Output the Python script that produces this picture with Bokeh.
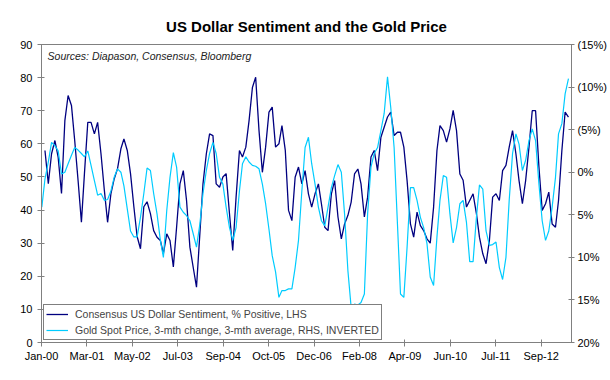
import pandas as pd
from bokeh.plotting import figure
from bokeh.models import (Range1d, LinearAxis, FixedTicker, CustomJSTickFormatter,
                          Legend, LegendItem, Label, Title)
from bokeh.embed import file_html
from bokeh.resources import INLINE

# ---------------- data (monthly readings) ----------------
# Consensus US Dollar Sentiment, % positive (LHS), Feb-2000 .. May-2013
sentiment = [
    58, 48, 57, 61, 56, 45, 67, 74.6, 71.6, 61, 49, 36.3,
    51, 66.5, 66.5, 63, 66.5, 57, 46, 36.3, 45, 49.4, 52.5, 58.5,
    61.5, 58, 51, 41, 32, 28.3, 41, 42.5, 38.9, 33.8, 31.8, 30.8,
    26.8, 32.8, 30.8, 22.8, 34.8, 47.9, 51.9, 42.9, 28.8, 22.8, 16.7, 32.8,
    47.9, 57, 63, 62.5, 47.9, 46.9, 50, 51, 38.9, 27.8, 43.9, 58,
    56, 59, 67, 77, 80.1, 64, 51.4, 59, 69.6, 71.1, 59, 60,
    65.5, 58, 39.9, 36.8, 49.9, 53, 47.9, 51.9, 44.9, 40.9, 44.9, 47.9,
    41.9, 34.8, 33.8, 44.9, 48.9, 37.9, 31.3, 35.8, 38.4, 42.4, 50.9, 52.4,
    47.9, 37.9, 43.9, 56, 58, 51.9, 62, 65, 68.1, 69.6, 62.5, 63.5,
    63.5, 59, 48.9, 35.8, 31.8, 39.4, 35.3, 33.8, 31.3, 30, 40.9, 58,
    65.5, 64, 60.5, 64.5, 70.1, 64, 50.9, 49, 40.9, 42.9, 44.9, 38.9,
    31.8, 26.8, 23.8, 30.8, 43.9, 44.9, 42.9, 51.9, 53.5, 59, 64, 57,
    48.9, 41.9, 48.9, 59, 70, 70, 53, 39.9, 41.9, 45.4, 35.8, 34.8,
    42.9, 58, 69.6, 68.1,
]

# Gold spot price, 3-mth change, 3-mth average, % (RHS, inverted), Jan-2000 .. May-2013
gold = [
    4.1, 0.8, -1.2, -3.5, -3.1, -2.5, 0.2, 0, -1.0, -2.0, -2.9, -2.6,
    -2.2, -1.8, -2.5, -0.8, 1.0, 2.7, 2.5, 3.3, 3.2, 2.2, 0.6, -0.4,
    0, 1.6, 4.3, 6.9, 7.6, 7.6, 5.3, 2.5, -0.5, -0.2, 2.5, 4.9,
    8.0, 10.0, 4.5, 0.6, -2.3, -0.6, 4.1, 4.7, 5.1, 5.7, 7.2, 8.8,
    6.1, 2.5, -0.2, -2.2, -3.5, -2.2, 0.6, 1.4, 4.1, 6.5, 8.0, 6.5,
    2.2, -1.0, -1.8, -1.2, -0.8, -0.7, -0.4, 1.4, 3.7, 6.7, 9.8, 11.7,
    14.7, 13.9, 13.9, 13.7, 13.7, 11.2, 8.0, 2.2, -2.9, -4.1, -1.0, 1.4,
    4.1, 5.7, 6.3, 4.1, 1.8, 0.4, -0.9, 0, 4.9, 11.6, 15.9, 15.5,
    15.6, 15.3, 14.3, 4.9, -0.6, -2.2, -2.9, -4.9, -6.9, -11.2, -7.6, -2.9,
    6.1, 14.3, 14.7, 8.8, 1.8, 1.8, 3.3, 5.3, 6.5, 8.4, 12.3, 13.3,
    7.6, 3.3, 0.4, 0.6, 4.9, 8.3, 6.5, 3.7, 3.3, 5.9, 10.5, 10.5,
    5.3, 1.5, 2.0, 6.9, 8.6, 8.5, 8.2, 11.2, 12.6, 10.0, 3.3, -2.2,
    -4.5, -3.3, -0.2, -1.4, -3.7, -5.1, -3.7, 1.4, 5.7, 8.0, 6.9, 4.1,
    0.6, -4.5, -5.7, -9.2, -11.0,
]

tick_labels = ["Jan-00", "Mar-01", "May-02", "Jul-03", "Sep-04", "Oct-05",
               "Dec-06", "Feb-08", "Apr-09", "Jun-10", "Jul-11", "Sep-12"]
left_ticks = [0, 10, 20, 30, 40, 50, 60, 70, 80, 90]
right_ticks = [-15, -10, -5, 0, 5, 10, 15, 20]

# ---------------- x positions (weeks since axis origin) ----------------
origin = pd.Timestamp("2000-01-28")
gold_dates = pd.date_range("2000-01-31", periods=len(gold), freq="ME")
sent_dates = gold_dates[len(gold) - len(sentiment):]
gold_x = list((gold_dates - origin).days / 7.0)
sent_x = list((sent_dates - origin).days / 7.0)
tick_step = 60  # weeks between category labels
tick_pos = [tick_step * i for i in range(len(tick_labels))]

FONT = "Liberation Sans"
GREY = "#808080"

p = figure(width=610, height=380, output_backend="svg", toolbar_location=None,
           x_range=Range1d(0, 700), y_range=Range1d(0, 90),
           min_border_left=41, min_border_right=39, min_border_top=44, min_border_bottom=38)
p.extra_y_ranges = {"gold": Range1d(start=20, end=-15)}

p.background_fill_color = "white"
p.border_fill_color = "white"
p.outline_line_color = GREY
p.xgrid.visible = False
p.ygrid.visible = False

title = Title(text="US Dollar Sentiment and the Gold Price", align="center",
              text_font=FONT, text_font_size="15px", text_font_style="bold",
              text_color="black", standoff=20)
p.add_layout(title, "above")

# x axis
xa = p.xaxis[0]
xa.ticker = FixedTicker(ticks=tick_pos)
xa.major_label_overrides = {t: lab for t, lab in zip(tick_pos, tick_labels)}
xa.minor_tick_line_color = None
xa.major_tick_in = 3
xa.major_tick_out = 4
xa.major_label_standoff = 3

# left axis
ya = p.yaxis[0]
ya.ticker = FixedTicker(ticks=left_ticks)
ya.minor_tick_line_color = None
ya.major_tick_in = 3
ya.major_tick_out = 4
ya.major_label_standoff = 5

# right axis
ra = LinearAxis(y_range_name="gold")
ra.ticker = FixedTicker(ticks=right_ticks)
ra.formatter = CustomJSTickFormatter(
    code='return tick < 0 ? "(" + Math.abs(tick) + "%)" : tick + "%";')
ra.minor_tick_line_color = None
ra.major_tick_in = 3
ra.major_tick_out = 3
ra.major_label_standoff = 3
p.add_layout(ra, "right")

for ax in (xa, ya, ra):
    ax.axis_line_color = GREY
    ax.major_tick_line_color = GREY
    ax.major_label_text_font = FONT
    ax.major_label_text_font_size = "11px"
    ax.major_label_text_color = "black"

r_sent = p.line(sent_x, sentiment, line_color="#000080", line_width=1.3)
r_gold = p.line(gold_x, gold, line_color="#00CCFF", line_width=1.2, y_range_name="gold")

src = Label(x=8, y=86.4, text="Sources: Diapason, Consensus, Bloomberg",
            text_font=FONT, text_font_size="10.5px", text_font_style="italic",
            text_color="#222222", text_baseline="middle")
p.add_layout(src)

legend = Legend(items=[
    LegendItem(label="Consensus US Dollar Sentiment, % Positive, LHS", renderers=[r_sent]),
    LegendItem(label="Gold Spot Price, 3-mth change, 3-mth average, RHS, INVERTED", renderers=[r_gold]),
], location="bottom_left")
legend.border_line_color = "black"
legend.border_line_width = 1
legend.background_fill_color = "white"
legend.background_fill_alpha = 1
legend.label_text_font = FONT
legend.label_text_font_size = "10.5px"
legend.glyph_width = 22
legend.glyph_height = 14
legend.label_height = 14
legend.spacing = 2
legend.padding = 2
legend.margin = 2
legend.label_standoff = 7
p.add_layout(legend)

open("out.html", "w").write(file_html(p, INLINE))
